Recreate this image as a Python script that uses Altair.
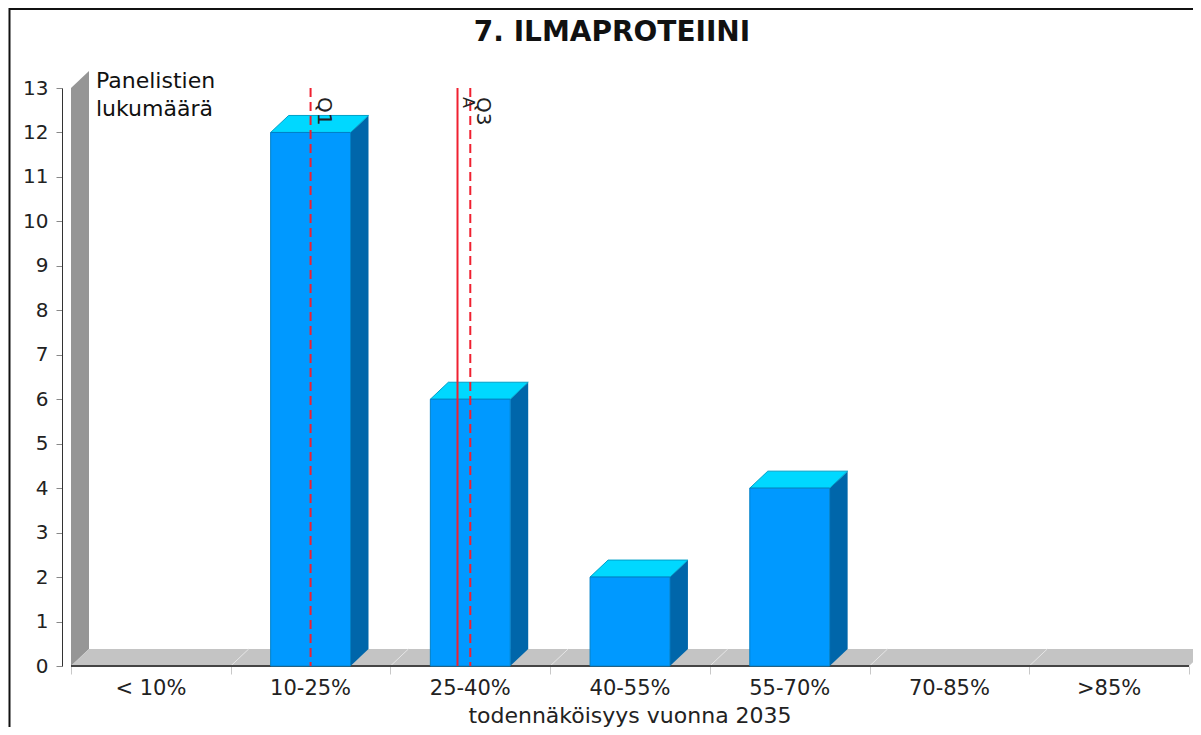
import altair as alt
import pandas as pd

categories = ["< 10%", "10-25%", "25-40%", "40-55%", "55-70%", "70-85%", ">85%"]
counts = [0, 12, 6, 2, 4, 0, 0]
marker_names = ["Q1", "A", "Q3"]
marker_positions = [1.5, 2.42, 2.5]
marker_dashed = [True, False, True]
y_ticks = list(range(0, 14))
x_ticks = list(range(0, 8))
y_title = "Panelistien\nlukumäärä"
x_title = "todennäköisyys vuonna 2035"
chart_title = "7. ILMAPROTEIINI"

DX, DY = 18 / 159.7, 17 / 44.46   # 3-D depth in data units
BAR = 0.25
FONT = "DejaVu Sans"

xs = alt.Scale(domain=[0, 7], nice=False, zero=False)
ys = alt.Scale(domain=[0, 13], nice=False, zero=False)
x_axis = alt.Axis(values=x_ticks, labels=False, title=None, domain=False, ticks=True, grid=False,
                  tickColor="#c8c8c8", tickSize=8, tickWidth=1)
y_axis = alt.Axis(values=y_ticks, title=None, grid=False, offset=9, domainColor="#333333",
                  tickColor="#888888", tickSize=6, tickWidth=1, labelFont=FONT, labelFontSize=20,
                  labelColor="#222222", labelPadding=8, format="d")
X = lambda f="x": alt.X(f, type="quantitative", scale=xs, axis=x_axis)
Y = lambda f="y": alt.Y(f, type="quantitative", scale=ys, axis=y_axis, stack=None)

bars = pd.DataFrame({"c": [i + .5 for i in range(7)], "v": counts, "name": categories})
bars = bars[bars.v > 0].copy()
bars["x0"] = bars.c - BAR
bars["x1"] = bars.c + BAR
bars["y0"] = 0.0

side = pd.concat([
    pd.DataFrame({"id": bars.c, "x": bars.x1, "y": 0.0, "y2": bars.v}),
    pd.DataFrame({"id": bars.c, "x": bars.x1 + DX, "y": DY, "y2": bars.v + DY}),
])
top = pd.concat([
    pd.DataFrame({"id": bars.c, "y": bars.v, "x": bars.x0, "x2": bars.x1}),
    pd.DataFrame({"id": bars.c, "y": bars.v + DY, "x": bars.x0 + DX, "x2": bars.x1 + DX}),
])
wall = pd.DataFrame({"x": [0, DX], "y": [0, DY], "y2": [13, 13 + DY]})
floor = pd.DataFrame({"y": [0, DY], "x": [0, DX], "x2": [7, 7 + DX]})
seps = pd.DataFrame({"x": x_ticks[1:-1], "y": 0.0, "x2": [t + DX for t in x_ticks[1:-1]], "y2": DY})
markers = pd.DataFrame({"x": marker_positions, "name": marker_names, "dash": marker_dashed, "y": 13.0, "y0": 0.0})
labels = pd.DataFrame({"x": [i + .5 for i in range(7)], "name": categories, "y": 0.0})

axes = alt.Chart(pd.DataFrame({"x": x_ticks, "y": 0.0})).mark_point(opacity=0).encode(x=X(), y=Y())
wall_l = alt.Chart(wall).mark_area(orient="vertical", color="#969696").encode(x=X(), y=Y(), y2="y2")
floor_l = alt.Chart(floor).mark_area(orient="horizontal", color="#c4c4c4").encode(y=Y(), x=X(), x2="x2")
sep_l = alt.Chart(seps).mark_rule(color="#e6e6e6", strokeWidth=1).encode(x=X(), y=Y(), x2="x2", y2="y2")
baseline = alt.Chart(pd.DataFrame({"x": [0], "x2": [7], "y": [0]})).mark_rule(
    color="#444444", strokeWidth=2).encode(x=X(), x2="x2", y=Y())
side_l = alt.Chart(side).mark_area(orient="vertical", color="#0066aa").encode(
    x=X(), y=Y(), y2="y2", detail="id:N")
top_l = alt.Chart(top).mark_area(orient="horizontal", color="#00d8ff", stroke="#00a0c8", strokeWidth=1).encode(
    y=Y(), x=X(), x2="x2", detail="id:N")
front = alt.Chart(bars).mark_bar(color="#0099ff", stroke="#0080c8", strokeWidth=1).encode(
    x=X("x0"), x2="x1", y=Y("v"), y2="y0")
dashed = alt.Chart(markers[markers.dash]).mark_rule(color="#f02030", strokeWidth=2, strokeDash=[9, 5]).encode(
    x=X(), y=Y(), y2="y0")
solid = alt.Chart(markers[~markers.dash]).mark_rule(color="#f02030", strokeWidth=2).encode(
    x=X(), y=Y(), y2="y0")
q_text = alt.Chart(markers[markers.dash]).mark_text(angle=90, align="left", baseline="alphabetic", dx=9, dy=-7,
                                                    font=FONT, fontSize=20, color="#222222").encode(
    x=X(), y=Y(), text="name")
a_text = alt.Chart(markers[~markers.dash]).mark_text(angle=90, align="left", baseline="alphabetic", dx=9, dy=-5,
                                                     font=FONT, fontSize=16, color="#222222").encode(
    x=X(), y=Y(), text="name")
cat_text = alt.Chart(labels).mark_text(baseline="alphabetic", dy=29, font=FONT, fontSize=21, color="#222222").encode(
    x=X(), y=Y(), text="name")
x_title_l = alt.Chart(pd.DataFrame({"x": [3.5], "y": [0.0], "t": [x_title]})).mark_text(
    baseline="alphabetic", dy=57, font=FONT, fontSize=22, color="#222222").encode(
    x=X(), y=Y(), text="t")
y_title_l = alt.Chart(pd.DataFrame({"x": [0.0], "y": [13.0], "t": [y_title]})).mark_text(
    align="left", baseline="alphabetic", dx=25, lineBreak="\n", lineHeight=28,
    font=FONT, fontSize=22, color="#111111").encode(x=X(), y=Y(), text="t")
title_l = alt.Chart(pd.DataFrame({"x": [3.5], "y": [13.0], "t": [chart_title]})).mark_text(
    baseline="alphabetic", dx=-18, dy=-47, font=FONT, fontSize=28, fontWeight="bold", color="#111111").encode(
    x=X(), y=Y(), text="t")
frame_top = alt.Chart(pd.DataFrame({"a": [0]})).mark_rule(color="#111111", strokeWidth=2).encode(
    x=alt.value(-62), x2=alt.value(1130), y=alt.value(-79))
frame_left = alt.Chart(pd.DataFrame({"a": [0]})).mark_rule(color="#111111", strokeWidth=2).encode(
    x=alt.value(-61.5), y=alt.value(-80), y2=alt.value(660))

chart = alt.layer(
    axes, wall_l, floor_l, sep_l, baseline, side_l, top_l, front, dashed, solid,
    q_text, a_text, cat_text, x_title_l, y_title_l, title_l, frame_top, frame_left,
).properties(
    width=1118, height=578,
    padding={"left": 63, "top": 80, "right": 4, "bottom": 61},
    autosize=alt.AutoSizeParams(type="none"),
    background="white",
).configure_view(stroke=None)

chart.save("out.html", embed_options={"renderer": "svg", "actions": False})
